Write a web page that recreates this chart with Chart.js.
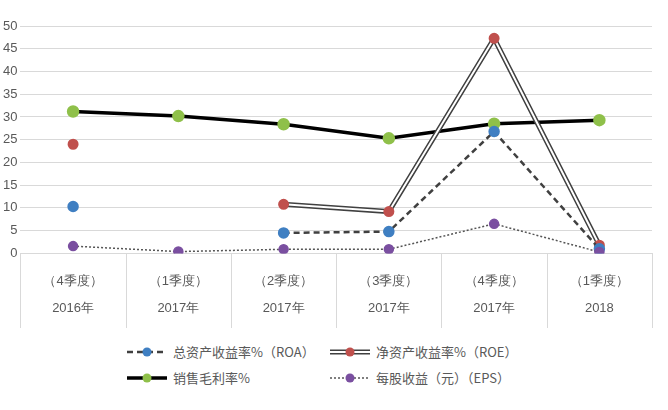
<!DOCTYPE html><html><head><meta charset="utf-8"><script src="https://cdn.jsdelivr.net/npm/chart.js@4/dist/chart.umd.min.js"></script>
<style>body{margin:0;background:#fff;font-family:"Noto Sans CJK SC",sans-serif}#w{position:relative;width:668px;height:410px}
.lg{position:absolute;font-size:13px;color:#595959;display:flex;align-items:center}.lg canvas{margin-right:4px}</style></head><body><div id="w"><div style="position:absolute;left:0;top:0;width:660px;height:328px"><canvas id="c"></canvas></div>
<div class="lg" style="left:125px;top:342px"><canvas id="l0" width="44" height="16"></canvas>总资产收益率%（ROA）</div>
<div class="lg" style="left:328px;top:342px"><canvas id="l1" width="44" height="16"></canvas>净资产收益率%（ROE）</div>
<div class="lg" style="left:125px;top:368px"><canvas id="l2" width="44" height="16"></canvas>销售毛利率%</div>
<div class="lg" style="left:328px;top:368px"><canvas id="l3" width="44" height="16"></canvas>每股收益（元）（EPS）</div></div>
<script>
const categories=[["（4季度）","2016年"],["（1季度）","2017年"],["（2季度）","2017年"],["（3季度）","2017年"],["（4季度）","2017年"],["（1季度）","2018"]];
const roa=[10.3,null,4.5,4.8,26.8,1.0];
const roe=[24.0,null,10.8,9.2,47.3,1.8];
const gross=[31.2,30.2,28.4,25.3,28.5,29.3];
const eps=[1.6,0.4,0.9,0.9,6.5,0.3];
const pr=4.5;
const sep={id:'sep',afterDraw(c){const x=c.scales.x,ctx=c.ctx,n=categories.length,w=(x.right-x.left)/n;ctx.save();ctx.strokeStyle='#d9d9d9';ctx.lineWidth=1;
for(let i=0;i<=n;i++){const px=Math.round(x.left+i*w)+0.5;ctx.beginPath();ctx.moveTo(px,x.top);ctx.lineTo(px,c.height);ctx.stroke();}ctx.restore();}};
new Chart(document.getElementById('c'),{type:'line',data:{labels:categories,datasets:[
{data:eps,borderColor:'#555',borderWidth:1.5,borderDash:[2,2],pointBackgroundColor:'#7a4fa0',pointBorderColor:'#7a4fa0',pointRadius:pr,tension:0},
{data:roa,borderColor:'#404040',borderWidth:2.5,borderDash:[6,4],pointBackgroundColor:'#3f7fc2',pointBorderColor:'#3f7fc2',pointRadius:pr,spanGaps:false},
{data:roe,borderColor:'#fff',borderWidth:2,pointBackgroundColor:'#c0504d',pointBorderColor:'#c0504d',pointRadius:pr,spanGaps:false},
{data:roe,borderColor:'#404040',borderWidth:5,pointRadius:0,spanGaps:false},
{data:gross,borderColor:'#000',borderWidth:3.5,pointBackgroundColor:'#8fc04a',pointBorderColor:'#8fc04a',pointRadius:pr}
]},options:{animation:false,responsive:true,maintainAspectRatio:false,layout:{padding:{top:26,right:8}},
plugins:{legend:{display:false},tooltip:{enabled:false}},
scales:{y:{min:0,max:50,ticks:{stepSize:5,color:'#595959',font:{size:13}},grid:{color:'#d9d9d9',drawTicks:false},border:{display:false}},
x:{offset:true,grid:{display:false},border:{color:'#d9d9d9'},ticks:{color:'#595959',font:{size:13,lineHeight:2.1},padding:6,maxRotation:0}}}},plugins:[sep]});
function lg(id,f){const x=document.getElementById(id).getContext('2d');f(x);}
function seg(x,c,w,d){x.beginPath();x.setLineDash(d||[]);x.strokeStyle=c;x.lineWidth=w;x.moveTo(2,8);x.lineTo(42,8);x.stroke();}
function dot(x,c){x.setLineDash([]);x.beginPath();x.fillStyle=c;x.arc(22,8,4.5,0,7);x.fill();}
lg('l0',x=>{seg(x,'#404040',2.5,[6,4]);dot(x,'#3f7fc2')});
lg('l1',x=>{seg(x,'#404040',5);seg(x,'#fff',2);dot(x,'#c0504d')});
lg('l2',x=>{seg(x,'#000',3.5);dot(x,'#8fc04a')});
lg('l3',x=>{seg(x,'#555',1.5,[2,2]);dot(x,'#7a4fa0')});
</script></body></html>
